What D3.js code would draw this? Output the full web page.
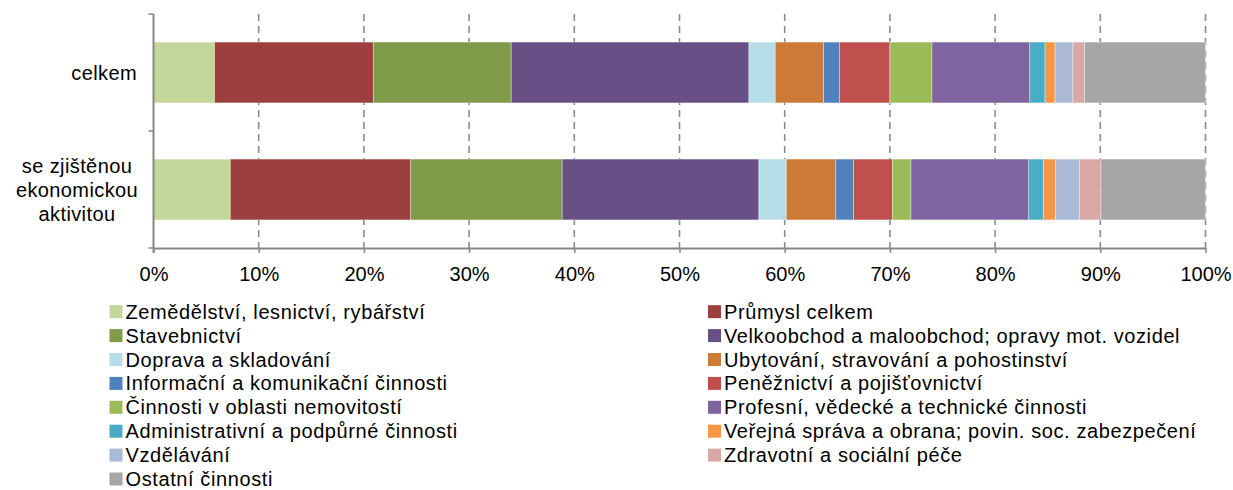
<!DOCTYPE html>
<html>
<head>
<meta charset="utf-8">
<script src="https://cdn.jsdelivr.net/npm/d3@7"></script>
<style>
	body { margin: 0; background: #fff; }
	text { font-family: "Liberation Sans", Arial, sans-serif; fill: #000; }
</style>
</head>
<body>
<script>
var categories = ["celkem", "se zjištěnou ekonomickou aktivitou"];
var catLines = [["celkem"], ["se zjištěnou", "ekonomickou", "aktivitou"]];

var sectors = [
	"Zemědělství, lesnictví, rybářství",
	"Průmysl celkem",
	"Stavebnictví",
	"Velkoobchod a maloobchod; opravy mot. vozidel",
	"Doprava a skladování",
	"Ubytování, stravování a pohostinství",
	"Informační a komunikační činnosti",
	"Peněžnictví a pojišťovnictví",
	"Činnosti v oblasti nemovitostí",
	"Profesní, vědecké a technické činnosti",
	"Administrativní a podpůrné činnosti",
	"Veřejná správa a obrana; povin. soc. zabezpečení",
	"Vzdělávání",
	"Zdravotní a sociální péče",
	"Ostatní činnosti"
];

// shares in %, one value per sector
var celkem = [5.8, 15.1, 13.1, 22.6, 2.5, 4.6, 1.5, 4.8, 4.0, 9.3, 1.45, 0.95, 1.7, 1.1, 11.5];
var zjistenou = [7.3, 17.15, 14.4, 18.7, 2.6, 4.7, 1.7, 3.7, 1.75, 11.2, 1.4, 1.15, 2.3, 2.0, 9.95];

var colors = ["#c4d79b", "#9c403f", "#7f9a48", "#684f85", "#b7dde8", "#cc7a37", "#4f81bd",
	"#c0504d", "#9bbb59", "#8064a2", "#4bacc6", "#f79646", "#aab9d6", "#d8a7a6", "#a6a6a6"];

var xTicks = d3.range(0, 101, 10);

function render_chart() {
	var width = 1233, height = 490;
	var pLeft = 153.5, pRight = 1205.5, pTop = 14, pBottom = 248;

	var svg = d3.select("body").append("svg")
		.attr("width", width)
		.attr("height", height);

	var x = d3.scaleLinear().domain([0, 100]).range([pLeft, pRight]);
	var y = d3.scaleBand().domain(categories).range([pTop, pBottom]).paddingInner(0.48).paddingOuter(0.24);

	// dashed gridlines
	svg.append("g")
		.selectAll("line")
		.data(xTicks.slice(1))
		.enter().append("line")
			.attr("x1", function(d) { return x(d); })
			.attr("x2", function(d) { return x(d); })
			.attr("y1", pTop)
			.attr("y2", pBottom)
			.attr("stroke", "#8c8c8c")
			.attr("stroke-width", 1.6)
			.attr("stroke-dasharray", "7,5");

	var rows = [celkem, zjistenou];
	var stackData = categories.map(function(c, i) {
		var o = { cat: c };
		sectors.forEach(function(s, j) { o[s] = rows[i][j]; });
		return o;
	});
	var series = d3.stack().keys(sectors)(stackData);

	svg.append("g")
		.selectAll("g")
		.data(series)
		.enter().append("g")
			.attr("fill", function(d, i) { return colors[i]; })
		.selectAll("rect")
		.data(function(d) { return d; })
		.enter().append("rect")
			.attr("x", function(d) { return x(d[0]); })
			.attr("width", function(d) { return x(d[1]) - x(d[0]); })
			.attr("y", function(d) { return y(d.data.cat); })
			.attr("height", y.bandwidth())
			.attr("stroke", "#fff")
			.attr("stroke-opacity", 0.45)
			.attr("stroke-width", 0.8);

	// x axis
	var xAxis = svg.append("g")
		.attr("transform", "translate(0," + pBottom + ")")
		.call(d3.axisBottom(x).tickValues(xTicks).tickFormat(function(d) { return d + "%"; }).tickSize(5).tickSizeOuter(0).tickPadding(14));
	xAxis.select(".domain").attr("stroke", "#868686").attr("stroke-width", 2);
	xAxis.selectAll(".tick line").attr("stroke", "#868686").attr("stroke-width", 1.5);
	xAxis.selectAll(".tick text").attr("font-size", "20px").attr("font-family", "Liberation Sans, Arial, sans-serif").attr("fill", "#000");

	// y axis line with separators
	svg.append("line")
		.attr("x1", pLeft).attr("x2", pLeft)
		.attr("y1", pTop).attr("y2", pBottom + 5)
		.attr("stroke", "#868686").attr("stroke-width", 2);
	svg.append("g")
		.selectAll("line")
		.data([pTop, (pTop + pBottom) / 2, pBottom])
		.enter().append("line")
			.attr("x1", pLeft - 5).attr("x2", pLeft)
			.attr("y1", function(d) { return d; })
			.attr("y2", function(d) { return d; })
			.attr("stroke", "#868686").attr("stroke-width", 1.5);

	// category labels
	categories.forEach(function(c, i) {
		var lines = catLines[i];
		var cy = y(c) + y.bandwidth() / 2;
		var multi = lines.length > 1;
		var t = svg.append("text")
			.attr("font-size", "20px")
			.attr("letter-spacing", "0.4px")
			.attr("text-anchor", multi ? "middle" : "end");
		lines.forEach(function(l, k) {
			t.append("tspan")
				.attr("x", multi ? 77 : 137)
				.attr("y", cy + (k - (lines.length - 1) / 2) * 24)
				.attr("dy", "0.35em")
				.text(l);
		});
	});

	// legend
	var legend = svg.append("g")
		.selectAll("g")
		.data(sectors)
		.enter().append("g")
			.attr("transform", function(d, i) {
				var col = i % 2, row = Math.floor(i / 2);
				return "translate(" + (col ? 708 : 109.5) + "," + (311.7 + row * 23.9) + ")";
			});

	legend.append("rect")
		.attr("x", 0).attr("y", -6.5)
		.attr("width", 13).attr("height", 13)
		.attr("fill", function(d, i) { return colors[i]; });

	legend.append("text")
		.attr("x", 16)
		.attr("dy", "0.35em")
		.attr("font-size", "20px")
		.attr("letter-spacing", "0.6px")
		.text(function(d) { return d; });
}

render_chart();
</script>
</body>
</html>
